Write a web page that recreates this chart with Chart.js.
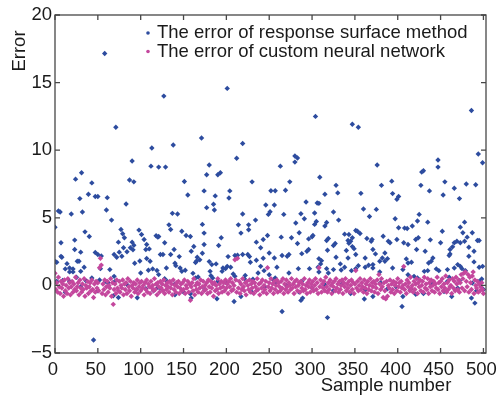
<!DOCTYPE html>
<html>
<head>
<meta charset="utf-8">
<script src="https://cdn.jsdelivr.net/npm/chart.js@4/dist/chart.umd.min.js"></script>
<style>
  html, body { margin: 0; padding: 0; background: #fff; }
  #wrap { width: 497px; height: 400px; }
</style>
</head>
<body>
<div id="wrap"><canvas id="errorChart" width="497" height="400"></canvas></div>
<script>
const seriesNames = ['The error of response surface method', 'The error of custom neural network'];
const xTitle = 'Sample number';
const yTitle = 'Error';
const xTicks = [0, 50, 100, 150, 200, 250, 300, 350, 400, 450, 500];
const yTicks = [-5, 0, 5, 10, 15, 20];

// response surface method: [sample, error]
const rsmPoints = [
  [58,17.15],[71,11.7],[127,14.0],[201,14.57],[113,10.16],[138,10.38],[171,10.9],[219,10.5],[90,9.2],[212,9.4],
  [112,8.82],[121,8.75],[129,8.75],[180,8.9],[24,7.86],[31,8.33],[43,7.58],[87,7.8],[92,7.66],[151,7.68],
  [177,8.18],[190,8.18],[193,8.33],[230,7.66],[304,12.5],[347,11.92],[354,11.7],[486,12.94],[494,9.72],[499,9.07],
  [263,8.82],[280,9.57],[283,9.42],[280,9.12],[376,8.9],[447,9.27],[447,8.75],[430,8.48],[428,8.38],[274,7.66],
  [309,8.0],[393,7.71],[455,7.66],[480,7.5],[491,7.45],[328,7.4],[381,7.4],[427,7.4],
  [29,6.42],[39,6.74],[47,6.57],[50,6.57],[61,6.49],[83,6.02],[60,5.58],[4,5.5],[6,5.43],[19,5.28],
  [32,5.43],[66,4.83],[35,3.96],[40,3.62],[7,3.15],[23,3.35],[77,4.14],[79,3.82],[81,3.52],[98,4.09],
  [101,3.77],[104,3.39],[90,3.2],[92,2.97],[88,2.78],[91,2.63],[84,2.49],[80,2.78],[75,2.46],[74,3.2],
  [107,3.02],[110,2.7],[106,2.65],[118,3.67],[121,3.62],[69,2.28],[72,2.08],[78,2.16],[23,2.65],[30,2.46],
  [28,1.79],[47,2.43],[50,2.28],[54,2.18],[8,2.08],[2,1.71],[14,1.61],[17,1.29],[21,1.22],[12,1.22],
  [17,1.0],[21,1.0],[26,1.79],[34,1.34],[30,1.04],[53,1.24],[64,1.17],[69,0.67],[93,1.64],[99,1.81],
  [107,1.99],[111,1.79],[100,0.92],[109,1.12],[114,1.22],[119,1.1],[121,0.8],[2,0.3],[9,0.37],[36,0.35],
  [43,0.55],[52,0.4],[59,0.3],[62,0.2],[70,0.3],[106,-0.25],[115,-0.4],[120,-0.15],[68,-0.77],[74,-0.89],
  [96,-0.91],[45,-4.04],[0,4.3],[0,1.78],[7,2.15],[498,0.47],[500,-0.3],
  [155,6.69],[174,6.99],[187,6.62],[204,6.99],[203,6.47],[177,5.75],[185,6.0],[186,5.58],[137,5.33],[143,5.28],
  [219,5.28],[133,4.48],[135,4.13],[172,4.51],[174,3.87],[148,4.01],[153,3.69],[158,3.62],[214,4.48],[217,3.87],
  [226,4.48],[234,4.83],[226,4.12],[120,3.57],[128,3.15],[123,2.28],[126,2.28],[162,2.88],[159,2.53],[174,3.02],
  [191,2.95],[194,3.52],[139,2.65],[135,2.28],[145,2.13],[140,1.64],[166,2.08],[165,1.79],[164,1.69],[169,1.89],
  [172,2.38],[180,1.76],[183,1.54],[188,1.59],[202,2.13],[201,1.41],[196,1.29],[199,1.24],[205,1.34],[210,2.21],
  [213,2.23],[219,2.28],[227,2.13],[228,1.71],[235,1.86],[243,2.01],[225,2.28],[235,3.2],[240,2.78],[243,3.39],
  [130,1.29],[141,1.46],[146,1.29],[148,1.04],[152,1.12],[161,0.89],[164,0.55],[167,0.62],[181,1.04],[182,0.72],
  [195,1.04],[184,0.55],[208,0.84],[210,0.67],[221,0.5],[222,0.74],[231,0.45],[237,0.92],[240,1.41],[244,1.09],
  [140,-0.7],[158,-0.62],[159,-0.94],[189,-0.99],[209,-1.19],[217,-0.82],[131,0.3],[123,-0.2],
  [252,7.0],[257,7.0],[269,7.04],[315,6.74],[330,6.84],[357,6.81],[246,5.95],[256,5.95],[251,5.45],[249,5.25],
  [293,6.17],[306,6.1],[308,6.07],[267,5.25],[287,5.3],[291,4.93],[303,5.35],[305,4.73],[303,4.51],[325,5.43],
  [331,4.83],[360,5.65],[367,5.1],[317,4.65],[315,4.39],[281,4.61],[248,3.69],[264,3.57],[276,3.52],[285,3.89],
  [296,3.44],[300,3.59],[301,3.69],[283,3.1],[288,2.35],[294,2.53],[317,3.32],[319,3.47],[318,2.6],[327,3.1],
  [325,2.95],[338,3.79],[342,3.32],[343,3.12],[345,3.27],[343,3.77],[347,3.52],[347,2.87],[351,4.06],[353,4.01],
  [356,3.84],[364,3.47],[369,3.27],[370,3.39],[340,2.58],[342,2.03],[349,2.72],[351,2.28],[362,2.03],[250,2.4],
  [256,2.03],[265,2.21],[271,2.16],[273,2.28],[296,2.65],[308,1.98],[311,1.83],[310,1.59],[328,2.08],[333,1.59],
  [325,1.17],[354,1.46],[362,1.34],[366,1.49],[371,1.54],[351,1.24],[346,1.09],[259,1.34],[273,0.92],[284,1.24],
  [297,1.24],[307,1.34],[308,0.99],[317,1.24],[319,0.92],[334,1.14],[338,1.34],[250,0.79],[257,0.55],[258,0.22],
  [288,0.3],[315,0.05],[362,-0.32],[289,-0.94],[287,-1.11],[361,-1.01],[265,-1.93],[318,-2.38],
  [466,7.19],[437,6.99],[394,6.79],[401,6.57],[399,6.37],[453,6.69],[472,6.42],[375,5.62],[425,5.25],[397,4.93],
  [423,4.76],[435,4.68],[478,4.68],[473,4.31],[476,3.89],[401,4.26],[408,4.24],[411,4.21],[417,4.39],[452,4.01],
  [383,3.64],[389,3.27],[391,3.15],[399,3.39],[407,3.15],[412,3.02],[421,3.39],[424,3.52],[438,3.37],[450,3.15],
  [466,3.15],[469,3.27],[473,3.15],[478,3.27],[481,3.57],[487,3.89],[493,3.32],[495,3.32],[461,2.65],[464,2.85],
  [461,2.33],[460,2.21],[483,2.82],[489,2.53],[483,2.16],[489,1.74],[422,2.65],[432,2.53],[371,2.65],[374,2.33],
  [382,2.03],[385,2.4],[379,1.79],[385,1.79],[388,1.98],[410,1.96],[416,1.71],[412,1.66],[436,1.66],[439,1.79],
  [441,2.03],[470,1.54],[473,1.41],[475,1.24],[479,1.09],[495,1.34],[499,1.41],[431,1.04],[435,1.09],[445,1.22],
  [448,1.09],[458,1.17],[466,1.29],[371,1.29],[379,1.0],[394,1.29],[406,1.17],[412,0.79],[419,0.67],[423,0.55],
  [460,0.6],[472,0.35],[487,0.18],[495,0.3],[388,-0.25],[406,-0.82],[421,-0.65],[454,-0.45],[371,-0.82],[463,-0.82],
  [486,-0.94],[490,-1.31],[405,-1.56],
  [17,0.3],[25,0.6],[30,-0.1],[85,0.0],[128,0.5],[140,0.1],[175,-0.3],[200,0.2],[230,-0.5],[255,0.4],
  [270,0.0],[300,-0.2],[335,0.1],[345,-0.6],[380,0.2],[415,-0.3],[440,0.1],[470,-0.2],[12,-0.5],[50,-0.4],
  [95,-0.3],[150,-0.5],[190,0.3],[245,-0.1],[285,-0.5],[325,-0.4],[398,-0.1],[430,-0.6],[458,0.3],[492,-0.4]
];

// custom neural network: one error per sample, sample = index 0..500
const nnError = [
  0.9,-0.3,0.2,-0.5,0.6,-0.1,-0.6,0.3,-0.2,0.1,-0.8,0.4,-0.4,0.0,-0.6,0.5,-0.2,0.2,-0.7,-0.1,0.3,-0.5,0.1,-0.3,0.6,
  -0.4,-0.1,0.2,-0.7,0.4,-0.2,-0.5,0.1,-0.3,0.5,-0.8,0.0,-0.2,0.3,-0.6,-0.1,0.2,-0.4,0.4,-0.3,-0.9,0.1,-0.5,0.3,-0.2,
  0.2,-0.4,1.3,2.0,1.5,-0.6,0.1,-0.3,0.4,-0.7,-0.1,0.3,-0.5,0.0,-0.2,0.5,-0.8,0.2,-1.4,-0.3,0.1,-0.6,0.4,-0.2,-0.4,
  0.3,-0.5,0.0,-0.2,0.4,-0.7,0.1,-0.3,0.2,-0.6,0.5,-0.1,-0.4,0.3,-0.8,0.0,-0.2,0.2,-0.5,0.1,-0.3,0.4,-0.6,-0.1,0.2,
  -0.4,0.3,-0.2,0.0,-0.7,0.2,-0.3,0.4,-0.5,0.1,-0.1,-0.6,0.3,-0.2,0.0,-0.4,0.5,-0.3,0.1,-0.7,0.2,-0.1,-0.5,0.3,-0.2,
  0.1,-0.4,0.4,-0.6,0.0,-0.3,0.2,-0.1,-0.5,0.3,-0.2,0.1,-0.7,0.4,-0.3,0.0,-0.5,0.2,-0.1,0.3,-0.6,-0.2,0.1,-0.4,0.2,
  -0.3,0.4,-0.6,0.0,-0.2,0.3,-0.5,0.1,-1.1,-0.1,0.2,-0.4,0.5,-0.7,0.0,-0.3,0.2,-0.5,0.1,-0.2,0.4,-0.6,-0.1,0.3,-0.4,
  0.0,-0.3,0.2,-0.6,0.4,-0.1,-0.5,0.3,-0.2,0.1,-0.8,0.2,-0.4,0.0,-0.3,0.5,-0.6,0.1,-0.2,0.3,-0.5,-0.1,0.2,-0.4,0.4,
  -0.2,0.1,-0.6,0.3,-0.1,0.5,-0.4,0.2,-0.3,0.0,1.9,0.4,-0.5,2.0,-0.2,0.3,-0.6,0.1,-0.3,0.5,-0.1,-0.4,0.2,-0.7,0.3,
  0.0,-0.3,0.4,-0.5,0.1,-0.2,0.3,-0.6,0.2,-0.1,-0.4,0.5,-0.3,0.1,-0.7,0.2,-0.2,0.4,-0.5,0.0,-0.3,0.3,-0.6,1.3,-0.1,
  0.2,-0.4,0.5,-0.2,0.1,-0.6,0.3,-0.3,0.0,0.4,-0.5,0.2,-0.1,-0.4,0.3,-0.2,0.5,-0.6,0.1,-0.3,0.4,-0.1,-0.5,0.2,0.0,
  -0.3,0.5,-0.2,0.1,-0.6,0.3,-0.1,0.4,-0.4,0.0,0.2,-0.5,0.3,-0.2,0.1,-0.4,0.5,-0.3,0.0,-0.6,0.2,-0.1,0.4,-0.5,0.1,
  -0.2,0.3,-0.4,0.0,0.5,-0.3,0.2,-0.6,1.3,-0.1,0.4,-0.5,0.1,-0.2,0.3,-0.4,0.6,-0.1,-0.5,0.2,-0.3,0.4,0.0,-0.6,0.2,
  -0.1,0.3,-0.4,0.5,-0.2,0.1,-0.5,0.3,-0.3,0.0,0.4,-0.6,0.2,-0.1,0.5,-0.4,0.1,-0.2,0.3,-0.5,0.0,0.4,-0.3,0.2,-0.6,
  0.1,1.1,-0.2,0.3,-0.4,0.0,0.5,-0.3,0.2,-0.1,-0.5,0.4,-0.2,0.1,-0.6,0.3,-0.3,0.0,0.5,-0.4,0.2,-0.1,0.3,-0.5,0.1,
  -0.2,0.4,-0.6,0.8,0.1,-0.3,0.5,-0.1,-0.9,0.2,-0.4,-1.0,0.3,-0.8,0.0,-0.2,0.4,-0.5,0.1,-0.3,0.3,-0.6,0.0,0.2,-0.4,
  0.5,-0.1,0.2,-0.5,0.3,-0.2,0.0,1.4,-0.3,0.1,-0.6,0.4,-0.1,0.2,-0.4,0.6,-0.2,0.0,-0.5,0.3,-0.3,0.1,0.5,-0.6,0.2,
  -0.1,0.4,-0.4,0.0,0.3,-0.5,0.6,-0.2,0.1,-0.3,0.5,-0.6,0.2,-0.1,0.4,-0.4,0.0,0.3,-0.5,0.1,-0.2,0.6,-0.3,0.2,-0.6,
  0.3,-0.1,0.5,-0.4,0.1,-0.2,0.7,-0.5,0.2,-0.3,0.4,-0.1,0.0,-0.6,0.5,-0.2,0.3,-0.4,0.6,0.1,-0.3,0.4,-0.5,0.2,0.8,
  -0.2,0.5,0.9,-0.4,1.0,0.3,-0.1,0.8,-0.5,0.6,0.2,-0.3,0.7,1.0,-0.6,0.4,0.0,-0.2,0.3,-0.5,0.1,-0.4,-0.1,0.2,-0.3,-0.6
];

const blue = '#2d4c9f';
const pink = '#c4479d';
const fontFamily = "'Liberation Sans', Arial, sans-serif";

// box, inward ticks, legend and axis titles in the MATLAB look
const matlabFrame = {
  id: 'matlabFrame',
  afterDatasetsDraw(chart) {
    const { ctx, chartArea: a, scales: { x, y } } = chart;
    ctx.save();
    ctx.strokeStyle = '#474747';
    ctx.lineWidth = 1.3;
    ctx.strokeRect(a.left, a.top, a.right - a.left, a.bottom - a.top);
    ctx.beginPath();
    xTicks.forEach(v => {
      const px = x.getPixelForValue(v);
      ctx.moveTo(px, a.bottom); ctx.lineTo(px, a.bottom - 5);
      ctx.moveTo(px, a.top); ctx.lineTo(px, a.top + 5);
    });
    yTicks.forEach(v => {
      const py = y.getPixelForValue(v);
      ctx.moveTo(a.left, py); ctx.lineTo(a.left + 5, py);
      ctx.moveTo(a.right, py); ctx.lineTo(a.right - 5, py);
    });
    ctx.stroke();

    ctx.font = '18.5px ' + fontFamily;
    ctx.textBaseline = 'middle';
    ctx.textAlign = 'left';
    [blue, pink].forEach((c, i) => {
      const ly = 33 + i * 18.5;
      ctx.fillStyle = c;
      ctx.beginPath();
      ctx.arc(148, ly, 1.8, 0, Math.PI * 2);
      ctx.fill();
      ctx.fillStyle = '#1a1a1a';
      ctx.fillText(seriesNames[i], 157, ly);
    });

    ctx.fillStyle = '#1a1a1a';
    ctx.textAlign = 'center';
    ctx.fillText(xTitle, 386, 386);
    ctx.translate(20, 51);
    ctx.rotate(-Math.PI / 2);
    ctx.fillText(yTitle, 0, 0);
    ctx.restore();
  }
};

new Chart(document.getElementById('errorChart'), {
  type: 'scatter',
  data: {
    datasets: [
      {
        label: seriesNames[1],
        data: nnError.map((v, i) => ({ x: i, y: v })),
        backgroundColor: pink, borderColor: pink,
        pointStyle: 'rectRot', pointRadius: 2.7, borderWidth: 0,
        order: 1
      },
      {
        label: seriesNames[0],
        data: rsmPoints.map(p => ({ x: p[0], y: p[1] })),
        backgroundColor: blue, borderColor: blue,
        pointStyle: 'rectRot', pointRadius: 2.7, borderWidth: 0,
        order: 2
      }
    ]
  },
  plugins: [matlabFrame],
  options: {
    responsive: false,
    animation: false,
    layout: { padding: { top: 15, right: 11, left: 0, bottom: 0 } },
    plugins: { legend: { display: false }, tooltip: { enabled: false } },
    scales: {
      x: {
        type: 'linear', min: 0, max: 503,
        afterBuildTicks: s => { s.ticks = xTicks.map(v => ({ value: v })); },
        afterFit: s => { s.height = 47; s.paddingLeft = 0; s.paddingRight = 0; },
        grid: { display: false, drawTicks: false },
        border: { display: false },
        ticks: { color: '#1a1a1a', font: { family: fontFamily, size: 18.5 }, padding: 6, labelOffset: -2, maxRotation: 0 }
      },
      y: {
        type: 'linear', min: -5, max: 20,
        afterBuildTicks: s => { s.ticks = yTicks.map(v => ({ value: v })); },
        afterFit: s => { s.width = 55; s.paddingTop = 0; s.paddingBottom = 0; },
        grid: { display: false, drawTicks: false },
        border: { display: false },
        ticks: {
          color: '#1a1a1a', font: { family: fontFamily, size: 18.5 }, padding: 3,
          callback: v => String(v).replace('-', '\u2212')
        }
      }
    }
  }
});
</script>
</body>
</html>
